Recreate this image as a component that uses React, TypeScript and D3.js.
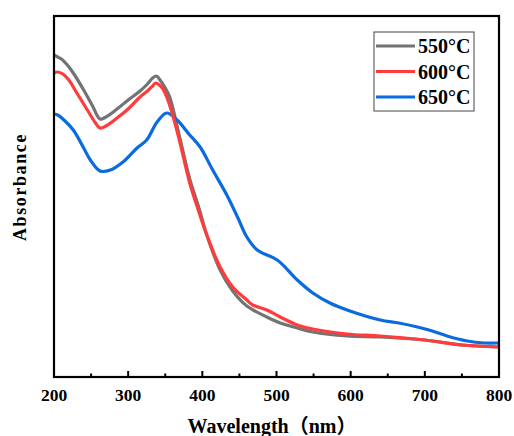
import React from "react";
import * as d3 from "d3";

const wl550 = [200,205,210,218,226,240,252,262,270,285,300,316,326,333,338,343,350,356,370,383,395,406,424,441,460,487,505,528,549,595,640,700,750,800];
const ab550 = [3.22,3.20,3.18,3.12,3.04,2.87,2.71,2.58,2.60,2.68,2.77,2.86,2.93,2.99,3.01,2.97,2.89,2.80,2.38,1.98,1.70,1.42,1.07,0.86,0.71,0.60,0.54,0.49,0.45,0.41,0.40,0.37,0.32,0.30];

const wl600 = [200,205,212,220,230,245,255,262,270,285,300,316,326,333,337,342,347,352,360,370,383,395,406,424,441,460,468,487,505,528,549,595,640,700,750,800];
const ab600 = [3.04,3.05,3.03,2.97,2.85,2.67,2.55,2.49,2.51,2.59,2.68,2.80,2.86,2.91,2.94,2.92,2.88,2.80,2.62,2.34,1.94,1.66,1.42,1.10,0.90,0.77,0.72,0.67,0.60,0.52,0.48,0.43,0.41,0.37,0.32,0.30];

const wl650 = [200,205,212,226,240,249,262,276,293,312,325,339,352,366,383,397,414,433,448,460,474,501,528,549,572,599,640,665,690,710,730,757,780,800];
const ab650 = [2.63,2.62,2.58,2.47,2.29,2.17,2.06,2.07,2.15,2.29,2.37,2.55,2.64,2.57,2.42,2.30,2.07,1.82,1.59,1.40,1.27,1.17,0.97,0.84,0.74,0.66,0.57,0.54,0.50,0.46,0.41,0.36,0.34,0.34];

const seriesNames = ["550°C", "600°C", "650°C"];
const seriesColors = ["#737373", "#ff3b3b", "#0a6be0"];
const xMajorTicks = [200, 300, 400, 500, 600, 700, 800];
const xMinorTicks = [250, 350, 450, 550, 650, 750];

const W = 514, H = 436;
const M = { left: 54, right: 499, top: 16, bottom: 377 };
const FONT = "'Times New Roman', 'Liberation Serif', 'Noto Sans CJK SC', serif";

export default function App() {
  const x = d3.scaleLinear().domain([200, 800]).range([M.left, M.right]);
  const y = d3.scaleLinear().domain([0, 3.61]).range([M.bottom, M.top]);
  const line = d3.line<[number, number]>().x(d => x(d[0])).y(d => y(d[1])).curve(d3.curveCatmullRom.alpha(0.5));
  const data = [
    d3.zip(wl550, ab550) as [number, number][],
    d3.zip(wl600, ab600) as [number, number][],
    d3.zip(wl650, ab650) as [number, number][],
  ];
  const order = [0, 2, 1];
  return (
    <svg width={W} height={H} style={{ position: "absolute", left: 0, top: 0 }}>
      <rect width={W} height={H} fill="#fff" />
      <defs>
        <clipPath id="plotclip">
          <rect x={M.left} y={M.top} width={M.right - M.left} height={M.bottom - M.top} />
        </clipPath>
      </defs>
      <g clipPath="url(#plotclip)">
        {order.map(i => (
          <path key={i} d={line(data[i]) || ""} fill="none" stroke={seriesColors[i]} strokeWidth={3.2} strokeLinejoin="round" />
        ))}
      </g>
      <rect x={M.left} y={M.top} width={M.right - M.left} height={M.bottom - M.top} fill="none" stroke="#000" strokeWidth={2.2} />
      {xMajorTicks.map(t => (
        <g key={t}>
          <line x1={x(t)} x2={x(t)} y1={M.bottom} y2={M.bottom - 6} stroke="#000" strokeWidth={2} />
          <text x={x(t)} y={401} textAnchor="middle" fontFamily={FONT} fontWeight="bold" fontSize={17.5}>{t}</text>
        </g>
      ))}
      {xMinorTicks.map(t => (
        <line key={t} x1={x(t)} x2={x(t)} y1={M.bottom} y2={M.bottom - 3.5} stroke="#000" strokeWidth={2} />
      ))}
      <text x={272} y={433} textAnchor="middle" fontFamily={FONT} fontWeight="bold" fontSize={20}>Wavelength（nm）</text>
      <text transform={`translate(26,${187}) rotate(-90)`} textAnchor="middle" fontFamily={FONT} fontWeight="bold" fontSize={18} letterSpacing={1.6}>Absorbance</text>
      <rect x={374} y={32} width={100} height={79} fill="#fff" stroke="#444" strokeWidth={1} />
      {seriesNames.map((n, i) => (
        <g key={n}>
          <line x1={376} x2={415} y1={46 + i * 25.5} y2={46 + i * 25.5} stroke={seriesColors[i]} strokeWidth={3.2} />
          <text x={418} y={46 + i * 25.5 + 7} fontFamily={FONT} fontWeight="bold" fontSize={20}>{n}</text>
        </g>
      ))}
    </svg>
  );
}
